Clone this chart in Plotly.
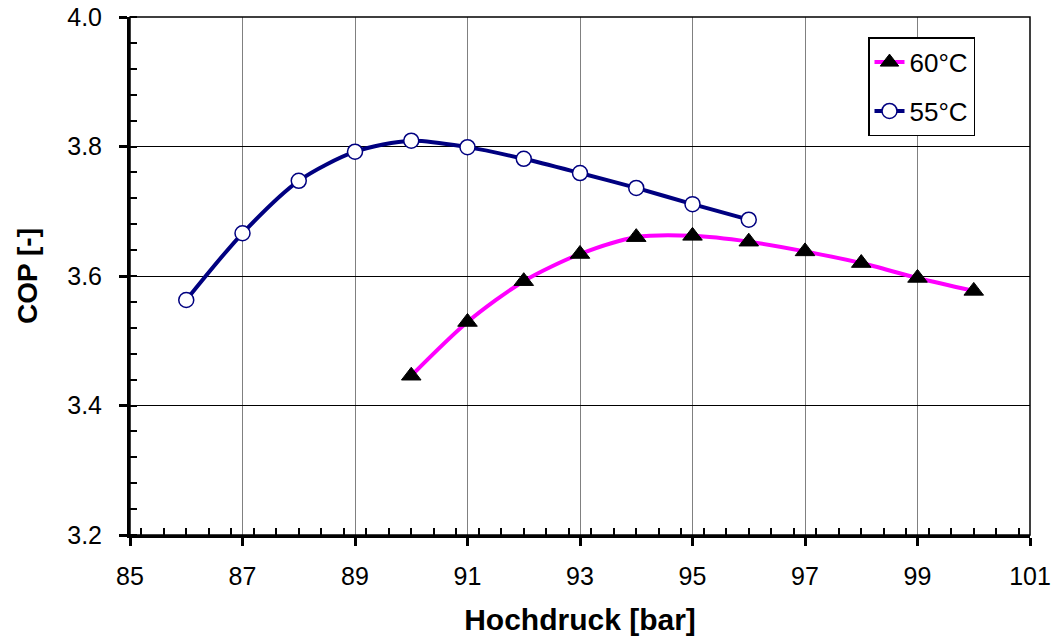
import plotly.graph_objects as go

x_55 = [86, 87, 88, 89, 90, 91, 92, 93, 94, 95, 96]
cop_55 = [3.563, 3.666, 3.747, 3.792, 3.809, 3.799, 3.781, 3.759, 3.736, 3.711, 3.687]

x_60 = [90, 91, 92, 93, 94, 95, 96, 97, 98, 99, 100]
cop_60 = [3.446, 3.529, 3.592, 3.634, 3.660, 3.662, 3.653, 3.638, 3.620, 3.597, 3.577]

FONT = "Liberation Sans, Arial, sans-serif"

fig = go.Figure()
fig.add_trace(go.Scatter(
    x=x_60, y=cop_60, name="60°C", mode="lines+markers", legendgroup="g60",
    line=dict(color="#FF00FF", width=4, shape="spline", smoothing=0.8),
    marker=dict(symbol="triangle-up", size=17, color="black",
                line=dict(color="black", width=1)),
))
fig.add_trace(go.Scatter(
    x=x_55, y=cop_55, name="55°C", mode="lines+markers", legendgroup="g55",
    line=dict(color="#000080", width=4, shape="spline", smoothing=0.8),
    marker=dict(symbol="circle", size=15, color="white",
                line=dict(color="#000080", width=1.5)),
))

fig.update_layout(
    width=1051, height=642,
    margin=dict(l=130, r=21, t=17, b=107, autoexpand=False),
    paper_bgcolor="white", plot_bgcolor="white",
    font=dict(family=FONT, size=25, color="black"),
    showlegend=True,
    legend=dict(
        x=0.82, y=0.961, xanchor="left", yanchor="top",
        bordercolor="black", borderwidth=1.5, bgcolor="white",
        font=dict(family=FONT, size=26, color="black"),
        traceorder="grouped", tracegroupgap=12,
    ),
    shapes=[dict(type="rect", xref="paper", yref="paper", x0=0, y0=0, x1=1, y1=1,
                 line=dict(color="black", width=1.5), layer="above")],
)

fig.update_xaxes(
    range=[85, 101], tick0=85, dtick=2, showgrid=True, gridcolor="#808080", gridwidth=1,
    showline=True, linecolor="black", linewidth=3, zeroline=False, automargin=False,
    ticks="outside", ticklen=8, tickwidth=3, tickcolor="black",
    ticklabeloverflow="allow", ticklabelstandoff=9,
    minor=dict(dtick=0.4, ticks="inside", ticklen=7, tickwidth=2, tickcolor="black", showgrid=False),
    title=dict(text="<b>Hochdruck [bar]</b>", font=dict(family=FONT, size=30), standoff=20),
    tickfont=dict(family=FONT, size=25),
)
fig.update_yaxes(
    range=[3.2, 4.0], tick0=3.2, dtick=0.2, tickformat=".1f",
    showgrid=True, gridcolor="black", gridwidth=1,
    showline=True, linecolor="black", linewidth=3, zeroline=False, automargin=False,
    ticks="outside", ticklen=8, tickwidth=3, tickcolor="black",
    ticklabeloverflow="allow", ticklabelstandoff=12,
    minor=dict(dtick=0.04, ticks="inside", ticklen=7, tickwidth=2, tickcolor="black", showgrid=False),
    title=dict(text="<b>COP [-]</b>", font=dict(family=FONT, size=28), standoff=22),
    tickfont=dict(family=FONT, size=25),
)

fig.write_html("out.html",
               post_script="document.body.style.margin='0';document.body.style.overflow='hidden';")
